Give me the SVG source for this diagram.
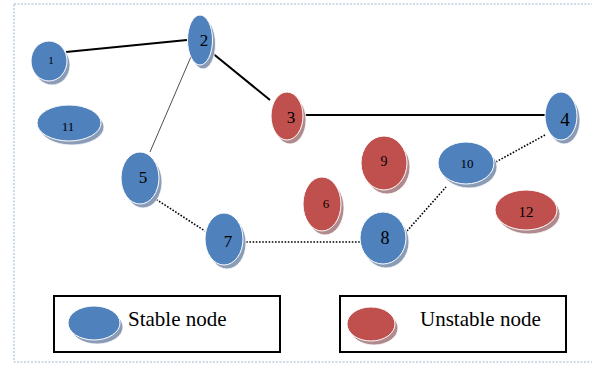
<svg xmlns="http://www.w3.org/2000/svg" width="592" height="366" viewBox="0 0 592 366">
<style>
.b{fill:#4f81bd;stroke:#fff;stroke-width:1}
.r{fill:#c0504d;stroke:#fff;stroke-width:1}
.bs{fill:#8b9cb6;stroke:#fff;stroke-width:0.8}
.rs{fill:#b08a8c;stroke:#fff;stroke-width:0.8}
text{font-family:"Liberation Serif","Times New Roman","DejaVu Serif",serif;fill:#000}
.t{text-anchor:middle}
.s{stroke:#000;stroke-width:2;fill:none}
.th{stroke:#000;stroke-width:0.7;fill:none}
.d{stroke:#000;stroke-width:1.6;stroke-dasharray:1.6 1.6;fill:none}
.lg{fill:#fff;stroke:#000;stroke-width:2}
</style>
<rect x="14" y="4" width="590" height="358" fill="none" stroke="#9db3d3" stroke-width="1" stroke-dasharray="2 1.5"/>
<g id="connectors">
<line class="s" x1="66" y1="52" x2="187" y2="40"/>
<line class="s" x1="211" y1="52" x2="270" y2="100"/>
<line class="th" x1="193" y1="52" x2="150" y2="152"/>
<line class="s" x1="302" y1="115" x2="545" y2="115"/>
<line class="d" x1="545" y1="135" x2="494" y2="163"/>
<line class="d" x1="151" y1="196" x2="205" y2="231"/>
<line class="d" x1="243" y1="242" x2="360" y2="242"/>
<line class="d" x1="407" y1="231" x2="446" y2="187"/>
</g>
<g id="n1"><ellipse class="bs" cx="52" cy="65" rx="18" ry="20"/><ellipse class="b" cx="49" cy="61" rx="18" ry="20"/><text class="t" x="51" y="64" font-size="11">1</text></g>
<g id="n2"><ellipse class="bs" cx="203" cy="44" rx="12.5" ry="25"/><ellipse class="b" cx="200" cy="40" rx="12.5" ry="25"/><text class="t" x="204" y="46" font-size="17">2</text></g>
<g id="n3"><ellipse class="rs" cx="290" cy="120" rx="16" ry="24"/><ellipse class="r" cx="287" cy="116" rx="16" ry="24"/><text class="t" x="291" y="123" font-size="17">3</text></g>
<g id="n4"><ellipse class="bs" cx="564" cy="120" rx="16" ry="24"/><ellipse class="b" cx="561" cy="116" rx="16" ry="24"/><text class="t" x="565" y="126" font-size="19">4</text></g>
<g id="n5"><ellipse class="bs" cx="143" cy="182" rx="19" ry="26"/><ellipse class="b" cx="140" cy="178" rx="19" ry="26"/><text class="t" x="143" y="183" font-size="17">5</text></g>
<g id="n6"><ellipse class="rs" cx="325" cy="208" rx="19" ry="27"/><ellipse class="r" cx="322" cy="204" rx="19" ry="27"/><text class="t" x="326" y="208" font-size="13">6</text></g>
<g id="n7"><ellipse class="bs" cx="227" cy="243" rx="19" ry="26"/><ellipse class="b" cx="224" cy="239" rx="19" ry="26"/><text class="t" x="228" y="247" font-size="17">7</text></g>
<g id="n8"><ellipse class="bs" cx="386" cy="242" rx="23" ry="26"/><ellipse class="b" cx="383" cy="238" rx="23" ry="26"/><text class="t" x="385" y="244" font-size="18">8</text></g>
<g id="n9"><ellipse class="rs" cx="387" cy="167" rx="23" ry="27"/><ellipse class="r" cx="384" cy="163" rx="23" ry="27"/><text class="t" x="384" y="166" font-size="14">9</text></g>
<g id="n10"><ellipse class="bs" cx="469" cy="167" rx="28" ry="21"/><ellipse class="b" cx="466" cy="163" rx="28" ry="21"/><text class="t" x="467" y="168" font-size="13">10</text></g>
<g id="n11"><ellipse class="bs" cx="72" cy="127" rx="32" ry="18"/><ellipse class="b" cx="69" cy="123" rx="32" ry="18"/><text class="t" x="68" y="131" font-size="13">11</text></g>
<g id="n12"><ellipse class="rs" cx="529" cy="214" rx="31" ry="20"/><ellipse class="r" cx="526" cy="210" rx="31" ry="20"/><text class="t" x="526" y="217" font-size="15">12</text></g>
<g id="legend-stable"><rect class="lg" x="54" y="296" width="226" height="56"/><ellipse class="bs" cx="97" cy="327" rx="26" ry="17"/><ellipse class="b" cx="94" cy="323" rx="26" ry="17"/><text x="128" y="326" font-size="21">Stable node</text></g>
<g id="legend-unstable"><rect class="lg" x="340" y="296" width="226" height="56"/><ellipse class="rs" cx="374" cy="328" rx="24" ry="17"/><ellipse class="r" cx="371" cy="324" rx="24" ry="17"/><text x="420" y="326" font-size="21">Unstable node</text></g>
</svg>
